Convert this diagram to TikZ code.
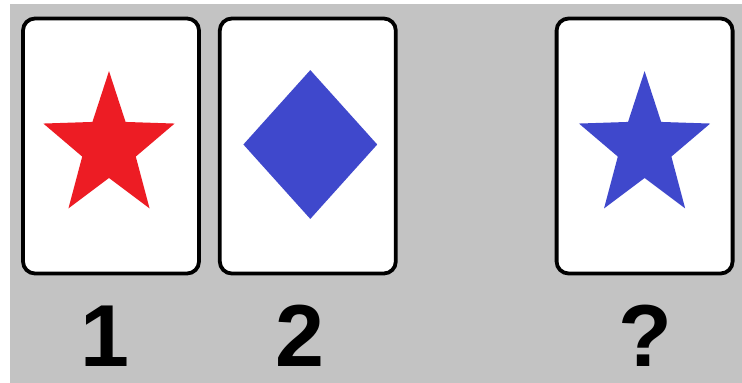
\documentclass[tikz,border=0pt]{standalone}
\usepackage{fontspec}
\setmainfont{Liberation Sans}
\usepackage{tikz}
\usetikzlibrary{positioning,shapes.geometric}
\definecolor{panelgray}{RGB}{195, 195, 195}
\definecolor{suitred}{RGB}{237, 28, 36}
\definecolor{suitblue}{RGB}{63, 72, 204}
\tikzset{
 card/.style={
 rectangle,
 rounded corners=12pt,
 draw=black,
 fill=white,
 line width=3.8pt,
 minimum width=176pt,
 minimum height=255pt,
 inner sep=0pt
 },
 starsuit/.style={
 star,
 star points=5,
 star point ratio=2.45,
 minimum size=138pt,
 inner sep=0pt,
 yscale=1.1,
 transform shape
 },
 gem/.style={
 diamond,
 minimum width=134pt,
 minimum height=149pt,
 inner sep=0pt,
 fill=suitblue
 },
 cardlabel/.style={
 anchor=base,
 inner sep=0pt,
 text depth=0pt,
 font=\bfseries\fontsize{88}{88}\selectfont
 }
}
\begin{document}
\begin{tikzpicture}[x=1pt,y=1pt]
 \useasboundingbox (0,0) rectangle (742,-383);
 \fill[white] (0,0) rectangle (742,-383);
 \fill[panelgray] (10,-4) rectangle (742,-383);

 \node[card] (card1) at (111,-146) {};
 \node[card, right=17pt of card1] (card2) {};
 \node[card, right=157pt of card2] (card3) {};

 \node[starsuit, fill=suitred] (star1) at ([xshift=-2pt,yshift=-1pt]card1.center) {};
 \node[gem] (diamond2) at ([xshift=2.5pt,yshift=1.5pt]card2.center) {};
 \node[starsuit, fill=suitblue] (star3) at ([yshift=-1pt]card3.center) {};

 \node[cardlabel] (lbl1) at (105,-366) {1};
 \node[cardlabel] (lbl2) at (300,-366) {2};
 \node[cardlabel] (lbl3) at (645,-366) {?};
\end{tikzpicture}
\end{document}
